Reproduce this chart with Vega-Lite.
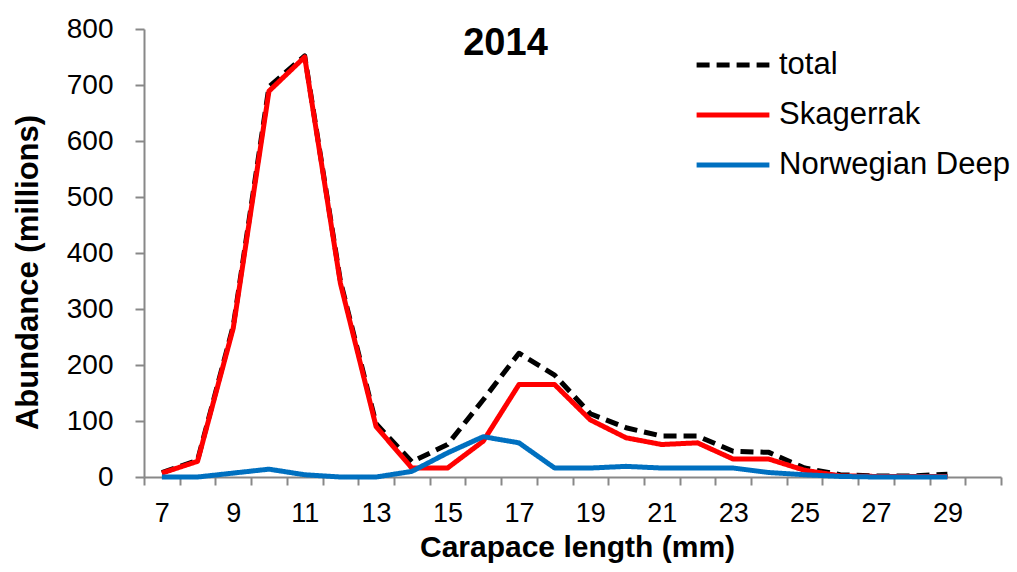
{
  "$schema": "https://vega.github.io/schema/vega-lite/v6.json",
  "width": 857,
  "height": 448,
  "autosize": "none",
  "padding": {"left": 144, "top": 29, "right": 16, "bottom": 95},
  "background": "white",
  "title": {"text": "2014", "fontSize": 38, "fontWeight": "bold", "font": "Liberation Sans", "color": "black", "dx": -67, "dy": 52},
  "data": {"values": [
    {"L": 7, "total": 8, "Skagerrak": 7, "Norwegian Deep": 0},
    {"L": 8, "total": 30, "Skagerrak": 28, "Norwegian Deep": 0},
    {"L": 9, "total": 270, "Skagerrak": 266, "Norwegian Deep": 7},
    {"L": 10, "total": 697, "Skagerrak": 689, "Norwegian Deep": 14},
    {"L": 11, "total": 752, "Skagerrak": 750, "Norwegian Deep": 4},
    {"L": 12, "total": 350, "Skagerrak": 346, "Norwegian Deep": 0},
    {"L": 13, "total": 95, "Skagerrak": 90, "Norwegian Deep": 0},
    {"L": 14, "total": 27, "Skagerrak": 16, "Norwegian Deep": 10},
    {"L": 15, "total": 58, "Skagerrak": 16, "Norwegian Deep": 43},
    {"L": 16, "total": 138, "Skagerrak": 64, "Norwegian Deep": 72},
    {"L": 17, "total": 221, "Skagerrak": 165, "Norwegian Deep": 61},
    {"L": 18, "total": 182, "Skagerrak": 165, "Norwegian Deep": 16},
    {"L": 19, "total": 113, "Skagerrak": 102, "Norwegian Deep": 16},
    {"L": 20, "total": 88, "Skagerrak": 70, "Norwegian Deep": 19},
    {"L": 21, "total": 73, "Skagerrak": 58, "Norwegian Deep": 16},
    {"L": 22, "total": 73, "Skagerrak": 61, "Norwegian Deep": 16},
    {"L": 23, "total": 46, "Skagerrak": 32, "Norwegian Deep": 16},
    {"L": 24, "total": 44, "Skagerrak": 32, "Norwegian Deep": 8},
    {"L": 25, "total": 16, "Skagerrak": 12, "Norwegian Deep": 4},
    {"L": 26, "total": 4, "Skagerrak": 2, "Norwegian Deep": 1},
    {"L": 27, "total": 2, "Skagerrak": 1, "Norwegian Deep": 0},
    {"L": 28, "total": 2, "Skagerrak": 1, "Norwegian Deep": 0},
    {"L": 29, "total": 5, "Skagerrak": 1, "Norwegian Deep": 0}
  ]},
  "transform": [{"fold": ["total", "Skagerrak", "Norwegian Deep"], "as": ["series", "value"]}],
  "mark": {"type": "line", "strokeWidth": 5, "strokeJoin": "round", "strokeCap": "butt"},
  "encoding": {
    "x": {
      "field": "L", "type": "quantitative",
      "scale": {"domain": [6.5, 30.5], "nice": false, "zero": false},
      "axis": {
        "title": "Carapace length (mm)",
        "values": [6.5, 7.5, 8.5, 9.5, 10.5, 11.5, 12.5, 13.5, 14.5, 15.5, 16.5, 17.5, 18.5, 19.5, 20.5, 21.5, 22.5, 23.5, 24.5, 25.5, 26.5, 27.5, 28.5, 29.5, 30.5],
        "labelExpr": "((datum.value - 6.5) % 2 == 0 && datum.value < 30) ? format(datum.value + 0.5, 'd') : ''",
        "labelOffset": 17.85,
        "labelFlush": false,
        "labelOverlap": false,
        "labelBound": false,
        "labelPadding": 15,
        "labelFontSize": 27,
        "grid": false,
        "tickSize": 8,
        "titlePadding": 6,
        "titleFontSize": 30,
        "titleX": 433
      }
    },
    "y": {
      "field": "value", "type": "quantitative",
      "scale": {"domain": [0, 800], "nice": false},
      "axis": {
        "title": "Abundance (millions)",
        "values": [0, 100, 200, 300, 400, 500, 600, 700, 800],
        "grid": false,
        "tickSize": 9,
        "labelPadding": 22,
        "labelFontSize": 28,
        "titlePadding": 22,
        "titleFontSize": 31,
        "titleY": 243
      }
    },
    "color": {
      "field": "series", "type": "nominal",
      "scale": {"domain": ["total", "Skagerrak", "Norwegian Deep"], "range": ["#000000", "#FF0000", "#0070C0"]},
      "legend": {"title": null}
    },
    "strokeDash": {
      "field": "series", "type": "nominal",
      "scale": {"domain": ["total", "Skagerrak", "Norwegian Deep"], "range": [[13, 7], [1, 0], [1, 0]]},
      "legend": {"title": null}
    },
    "order": {"field": "series", "sort": "descending"}
  },
  "config": {
    "view": {"stroke": null},
    "font": "Liberation Sans",
    "axis": {
      "domainColor": "#888888", "domainWidth": 2, "tickColor": "#888888", "tickWidth": 2,
      "labelFont": "Liberation Sans", "labelColor": "black",
      "titleFont": "Liberation Sans", "titleFontWeight": "bold", "titleColor": "black"
    },
    "legend": {
      "orient": "none", "legendX": 550, "legendY": 11,
      "labelFont": "Liberation Sans", "labelFontSize": 31, "labelColor": "black", "labelLimit": 400,
      "symbolType": "stroke", "symbolSize": 5300, "symbolStrokeWidth": 5,
      "rowPadding": 0, "clipHeight": 50, "labelOffset": 7
    }
  }
}
